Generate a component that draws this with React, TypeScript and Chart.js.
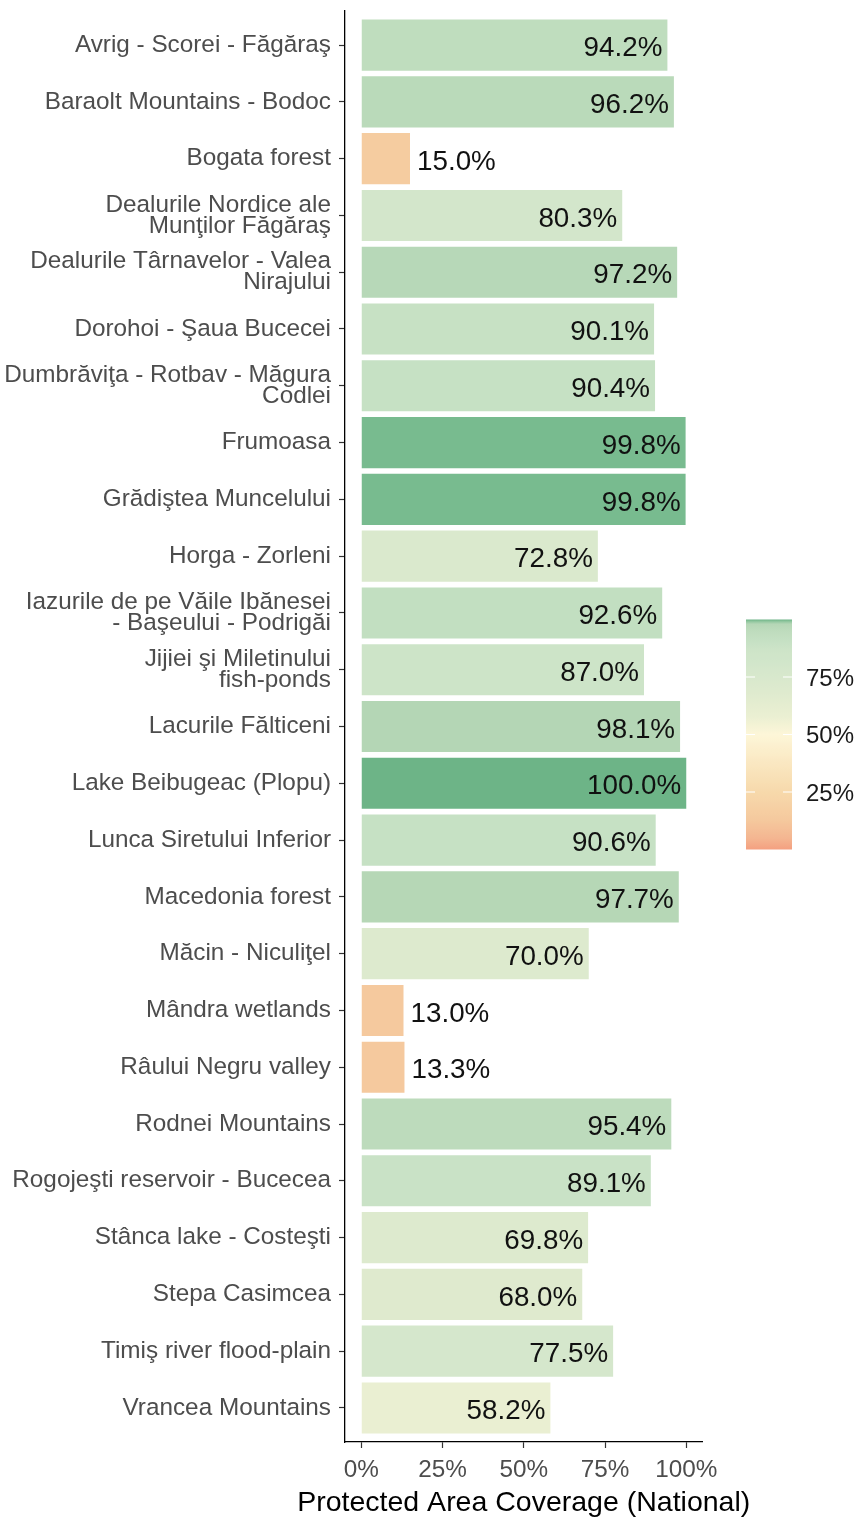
import React, { useEffect, useRef } from 'react';
import { Chart, registerables } from 'chart.js';

Chart.register(...registerables);

const categories: (string | string[])[] = [
  'Avrig - Scorei - Făgăraş',
  'Baraolt Mountains - Bodoc',
  'Bogata forest',
  ['Dealurile Nordice ale', 'Munţilor Făgăraş'],
  ['Dealurile Târnavelor - Valea', 'Nirajului'],
  'Dorohoi - Şaua Bucecei',
  ['Dumbrăviţa - Rotbav - Măgura', 'Codlei'],
  'Frumoasa',
  'Grădiştea Muncelului',
  'Horga - Zorleni',
  ['Iazurile de pe Văile Ibănesei', '- Başeului - Podrigăi'],
  ['Jijiei şi Miletinului', 'fish-ponds'],
  'Lacurile Fălticeni',
  'Lake Beibugeac (Plopu)',
  'Lunca Siretului Inferior',
  'Macedonia forest',
  'Măcin - Niculiţel',
  'Mândra wetlands',
  'Râului Negru valley',
  'Rodnei Mountains',
  'Rogojeşti reservoir - Bucecea',
  'Stânca lake - Costeşti',
  'Stepa Casimcea',
  'Timiş river flood-plain',
  'Vrancea Mountains',
];

const coverage: number[] = [
  94.2, 96.2, 15.0, 80.3, 97.2, 90.1, 90.4, 99.8, 99.8, 72.8, 92.6, 87.0, 98.1,
  100.0, 90.6, 97.7, 70.0, 13.0, 13.3, 95.4, 89.1, 69.8, 68.0, 77.5, 58.2,
];

const xTicks: number[] = [0, 25, 50, 75, 100];
const legendTicks: number[] = [25, 50, 75];
const xTitle = 'Protected Area Coverage (National)';

// colour scale stops (value -> rgb)
const colorStops: [number, number, number, number][] = [
  [0, 244, 160, 128],
  [5, 244, 182, 145],
  [13, 245, 201, 158],
  [25, 247, 217, 171],
  [50, 253, 246, 216],
  [58, 234, 239, 210],
  [69, 222, 234, 206],
  [77.5, 213, 231, 204],
  [87, 205, 228, 200],
  [90.5, 198, 225, 196],
  [95, 190, 220, 189],
  [98.2, 180, 214, 181],
  [99.8, 120, 187, 143],
  [100, 109, 180, 135],
];

function colorFor(v: number): string {
  if (v <= colorStops[0][0]) {
    const s = colorStops[0];
    return `rgb(${s[1]},${s[2]},${s[3]})`;
  }
  for (let i = 1; i < colorStops.length; i++) {
    const a = colorStops[i - 1];
    const b = colorStops[i];
    if (v <= b[0]) {
      const t = (v - a[0]) / (b[0] - a[0]);
      const r = Math.round(a[1] + (b[1] - a[1]) * t);
      const g = Math.round(a[2] + (b[2] - a[2]) * t);
      const bl = Math.round(a[3] + (b[3] - a[3]) * t);
      return `rgb(${r},${g},${bl})`;
    }
  }
  const s = colorStops[colorStops.length - 1];
  return `rgb(${s[1]},${s[2]},${s[3]})`;
}

const FONT = '"Liberation Sans", Arial, sans-serif';

const valueLabels = {
  id: 'valueLabels',
  afterDatasetsDraw(chart: any) {
    const ctx = chart.ctx;
    const meta = chart.getDatasetMeta(0);
    ctx.save();
    ctx.font = `27.8px ${FONT}`;
    ctx.fillStyle = '#111111';
    ctx.textBaseline = 'middle';
    meta.data.forEach((bar: any, i: number) => {
      const v = coverage[i];
      const text = v.toFixed(1) + '%';
      if (v >= 40) {
        ctx.textAlign = 'right';
        ctx.fillText(text, bar.x - 5, bar.y + 3.5);
      } else {
        ctx.textAlign = 'left';
        ctx.fillText(text, bar.x + 7, bar.y + 3.5);
      }
    });
    ctx.restore();
  },
};

const axisTitle = {
  id: 'axisTitle',
  afterDraw(chart: any) {
    const { ctx, chartArea } = chart;
    ctx.save();
    ctx.font = `28.5px ${FONT}`;
    ctx.fillStyle = '#000000';
    ctx.textAlign = 'center';
    ctx.textBaseline = 'middle';
    ctx.fillText(xTitle, (chartArea.left + chartArea.right) / 2, chartArea.bottom + 61);
    ctx.restore();
  },
};

const colorbar = {
  id: 'colorbar',
  afterDraw(chart: any) {
    const { ctx, chartArea } = chart;
    const x0 = chartArea.right + 43.5;
    const w = 46;
    const h = 230;
    const cy = (chartArea.top + chartArea.bottom) / 2 + 8;
    const yTop = cy - h / 2;
    const yBottom = cy + h / 2;
    ctx.save();
    const grad = ctx.createLinearGradient(0, yBottom, 0, yTop);
    for (let k = 0; k <= 100; k++) {
      grad.addColorStop(k / 100, colorFor(k));
    }
    ctx.fillStyle = grad;
    ctx.fillRect(x0, yTop, w, h);
    ctx.strokeStyle = '#ffffff';
    ctx.lineWidth = 1.2;
    ctx.font = `24px ${FONT}`;
    ctx.fillStyle = '#1a1a1a';
    ctx.textAlign = 'left';
    ctx.textBaseline = 'middle';
    legendTicks.forEach((t) => {
      const y = yBottom - (t / 100) * h;
      ctx.beginPath();
      ctx.moveTo(x0, y);
      ctx.lineTo(x0 + 9, y);
      ctx.moveTo(x0 + w - 9, y);
      ctx.lineTo(x0 + w, y);
      ctx.stroke();
      ctx.fillText(t + '%', x0 + w + 14, y + 2);
    });
    ctx.restore();
  },
};

export default function App() {
  const ref = useRef<HTMLCanvasElement | null>(null);

  useEffect(() => {
    if (!ref.current) return;
    const chart = new Chart(ref.current, {
      type: 'bar',
      data: {
        datasets: [
          {
            data: coverage.map((v, i) => ({ x: v, y: i })),
            backgroundColor: coverage.map((v) => colorFor(v)),
            borderWidth: 0,
            barPercentage: 0.9,
            categoryPercentage: 1.0,
          },
        ],
      },
      options: {
        indexAxis: 'y',
        animation: false,
        responsive: true,
        maintainAspectRatio: false,
        layout: { padding: { top: 11, right: 154.5, bottom: 0, left: 0 } },
        plugins: {
          legend: { display: false },
          tooltip: { enabled: false },
          title: { display: false },
        },
        scales: {
          y: {
            type: 'linear',
            min: -0.6,
            max: 24.6,
            reverse: true,
            offset: false,
            afterBuildTicks: (scale: any) => {
              scale.ticks = categories.map((_, i) => ({ value: i }));
            },
            afterFit: (scale: any) => {
              scale.width = 345;
              scale.paddingTop = 0;
              scale.paddingBottom = 0;
            },
            ticks: {
              autoSkip: false,
              padding: 8,
              color: '#4d4d4d',
              font: { family: FONT, size: 24.3, lineHeight: 0.87 },
              callback: (value: any) => categories[Math.round(Number(value))],
            },
            grid: {
              display: true,
              offset: false,
              drawOnChartArea: false,
              drawTicks: true,
              tickLength: 6,
              tickColor: '#333333',
              tickWidth: 1.2,
            },
            border: { display: true, color: '#000000', width: 1.3 },
          },
          x: {
            type: 'linear',
            min: -5,
            max: 105,
            offset: false,
            afterBuildTicks: (scale: any) => {
              scale.ticks = xTicks.map((v) => ({ value: v }));
            },
            afterFit: (scale: any) => {
              scale.height = 78;
              scale.paddingLeft = 0;
              scale.paddingRight = 0;
            },
            ticks: {
              autoSkip: false,
              padding: 8,
              maxRotation: 0,
              color: '#4d4d4d',
              font: { family: FONT, size: 24.3 },
              callback: (value: any) => value + '%',
            },
            grid: {
              display: true,
              offset: false,
              drawOnChartArea: false,
              drawTicks: true,
              tickLength: 6,
              tickColor: '#333333',
              tickWidth: 1.2,
            },
            border: { display: true, color: '#000000', width: 1.3 },
            title: { display: false },
          },
        },
      },
      plugins: [valueLabels, axisTitle, colorbar],
    });
    return () => chart.destroy();
  }, []);

  return (
    <div
      style={{
        position: 'fixed',
        left: 0,
        top: 0,
        width: 857,
        height: 1520,
        background: '#ffffff',
      }}
    >
      <canvas ref={ref} />
    </div>
  );
}
